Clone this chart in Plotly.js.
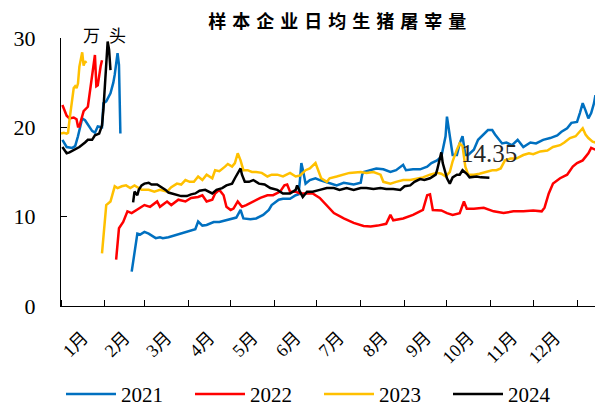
<!DOCTYPE html>
<html><head><meta charset="utf-8">
<script src="https://cdn.plot.ly/plotly-3.0.1.min.js"></script>
<style>
html,body{margin:0;padding:0;background:#fff;}
#chart{width:595px;height:408px;}
.gtitle{letter-spacing:6px;}
.annotation[data-index="0"] .annotation-text{letter-spacing:9px;}
</style></head><body><div id="chart"></div>
<script>
// day index (0 = Jan 1) and values, 万头; null marks the Spring Festival gap
const d2021 = [1,4,8,10,12,15,17,19,22,24,26,29,30,32,35,37,38,40,41,42,46,50,51,54,56,59,62,64,67,70,72,76,81,85,90,95,97,100,103,108,112,117,122,124,127,129,134,138,143,147,149,154,157,162,166,168,169,170,171,173,176,180,183,187,190,195,200,207,212,213,214,219,223,228,233,237,242,244,249,254,259,262,266,269,272,273,275,277,280,282,284,286,288,292,295,299,302,305,307,312,315,319,323,327,332,336,341,346,351,354,358,361,365,367,369,371,373,375,377,378];
const v2021 = [18.6,17.8,17.7,17.9,19.0,21.0,20.8,20.3,19.6,19.4,20.1,20.0,22.7,22.9,23.8,25.0,25.9,28.3,27.0,19.3,null,3.85,4.8,8.1,8.0,8.3,8.1,7.9,7.6,7.7,7.6,7.7,7.95,8.1,8.4,8.6,9.45,9.0,9.07,9.4,9.4,9.6,9.8,9.9,10.75,9.8,9.7,9.8,10.2,10.75,11.3,11.9,12.0,12.0,12.4,12.5,14.1,16.0,15.3,13.7,14.1,14.3,14.1,13.9,13.8,13.5,13.8,13.6,13.8,14.7,15.0,15.2,15.4,15.3,15.0,15.2,15.8,15.2,15.3,15.3,15.6,16.0,16.3,16.7,19.0,21.2,18.9,16.9,16.9,18.2,19.0,16.9,16.9,17.5,18.6,19.3,19.7,19.7,19.2,18.2,18.3,18.0,18.6,17.8,18.3,18.2,18.6,18.8,19.1,19.5,19.9,20.5,20.6,21.6,22.7,21.9,21.0,21.6,22.7,23.6];

const d2022 = [1,4,6,9,11,12,13,16,19,20,22,24,25,26,28,29,34,39,41,44,47,50,55,59,63,68,70,75,78,83,88,92,97,100,103,107,109,112,115,117,120,122,125,128,131,136,141,146,150,155,158,160,162,166,169,174,178,183,188,193,200,207,214,219,224,230,233,235,242,249,256,259,261,263,269,273,277,282,285,287,292,299,306,313,320,327,334,340,342,345,348,353,358,362,365,369,373,375,378];
const v2022 = [22.5,21.3,21.0,21.1,20.9,20.1,20.1,21.8,22.3,23.4,26.0,28.1,24.6,24.7,26.8,27.5,null,5.2,8.7,9.4,10.6,10.4,10.9,11.3,11.1,11.7,11.1,11.7,11.3,11.9,11.7,12.1,12.2,12.4,11.7,11.9,12.6,13.0,12.4,11.1,10.75,10.9,11.7,11.1,11.3,11.7,12.1,12.4,12.4,12.8,13.5,13.6,12.8,12.8,12.6,12.6,12.6,12.1,11.3,10.4,9.8,9.3,8.96,8.9,9.0,9.2,10.2,9.6,9.8,10.2,10.75,12.4,12.5,10.75,10.7,10.4,10.2,10.4,11.7,10.9,10.9,11.0,10.6,10.4,10.6,10.6,10.7,10.6,11.0,12.6,13.7,14.3,14.7,15.6,16.0,16.3,17.1,17.7,17.5];

const d2023 = [0,2,4,5,6,8,9,10,11,12,13,15,16,17,18,23,29,31,32,35,37,38,40,43,46,49,52,57,62,66,70,75,78,82,85,88,91,94,97,100,103,107,109,112,116,118,121,123,125,127,129,132,135,138,142,146,149,153,157,162,166,169,173,176,180,182,184,188,190,195,200,204,212,216,221,226,228,233,237,242,247,252,256,261,266,269,272,275,277,280,282,284,286,288,292,296,301,305,308,311,314,318,322,327,331,334,339,344,348,353,356,360,364,367,369,371,373,376,378];
const v2023 = [19.3,19.4,19.3,19.4,20.8,23.0,24.4,24.6,24.4,24.9,26.8,28.4,26.9,27.4,27.2,null,5.9,10.2,11.3,11.7,13.0,13.4,13.2,13.4,13.5,13.2,13.5,13.0,13.0,12.8,13.0,12.8,13.3,13.7,13.6,14.1,13.9,13.9,14.5,14.1,14.7,14.3,15.2,15.1,15.6,15.9,15.6,16.0,17.1,16.3,15.2,15.2,15.0,15.0,14.9,14.5,14.7,14.7,14.5,14.9,14.5,14.6,15.2,15.4,16.0,15.2,14.3,13.9,14.3,14.5,14.7,14.9,15.0,14.9,15.0,14.7,13.9,13.7,13.9,14.1,14.1,14.3,14.4,14.7,14.9,14.8,14.5,15.0,16.2,17.5,18.2,17.9,15.6,14.7,14.7,14.8,15.0,15.2,15.2,15.4,16.3,16.5,16.5,16.9,17.1,17.0,17.3,17.4,17.8,18.0,18.3,18.8,19.0,19.5,19.9,19.2,18.8,18.4,18.3];

const d2024 = [1,4,6,10,13,17,19,22,24,27,29,30,31,32,33,34,35,43,51,52,54,55,57,59,62,64,68,70,74,76,81,85,89,92,95,98,102,107,110,114,117,121,123,125,127,128,130,133,136,140,144,148,153,157,162,166,167,169,171,174,178,183,188,193,197,202,207,212,216,221,226,230,235,240,243,247,250,254,257,261,265,266,267,269,270,273,275,277,280,282,284,287,289,292,294,297,299,301,303];
const v2024 = [17.8,17.1,17.2,17.5,17.8,18.3,18.6,18.6,19.1,19.3,20.2,22.0,24.8,27.5,29.6,28.7,26.4,null,11.6,12.8,12.4,13.0,13.5,13.7,13.8,13.6,13.6,13.4,13.0,12.7,12.5,12.3,12.3,12.5,12.6,12.9,13.0,12.6,13.0,13.2,13.5,13.7,14.3,14.9,15.4,14.7,13.9,13.9,14.1,13.7,13.6,13.2,13.0,12.6,12.6,13.0,13.5,12.8,12.2,12.8,12.8,13.0,13.2,13.2,13.0,13.2,13.0,13.2,13.2,13.1,13.2,13.1,13.1,13.0,13.4,13.5,13.9,14.2,14.1,14.3,14.7,15.2,15.8,17.2,16.0,14.3,13.7,14.4,14.7,14.7,15.2,14.8,14.4,14.5,14.5,14.4,14.4,14.4,14.35];

const seriesNames = ['2021','2022','2023','2024'];
const seriesColors = ['#0070C0','#FF0000','#FFC000','#000000'];
const monthEdges = [0,31,59,90,120,151,181,212,243,273,304,334,365];
const monthLabels = ['1月','2月','3月','4月','5月','6月','7月','8月','9月','10月','11月','12月'];
const yTicks = [0,10,20,30];
const unitLabel = '万头';
const chartTitle = '样本企业日均生猪屠宰量';

const monthMid = monthLabels.map((_, i) => (monthEdges[i] + monthEdges[i+1]) / 2);
const xs = [d2021, d2022, d2023, d2024];
const ys = [v2021, v2022, v2023, v2024];
const serif = 'Liberation Serif, "Times New Roman", "Noto Sans CJK SC", serif';

const traces = seriesNames.map((n, i) => ({
  type: 'scatter', mode: 'lines', name: n, x: xs[i], y: ys[i],
  connectgaps: false,
  line: {color: seriesColors[i], width: 2.5, shape: 'linear'},
  hoverinfo: 'skip'
}));

const lastX = d2024[d2024.length - 1];
const lastY = v2024[v2024.length - 1];

const layout = {
  width: 595, height: 408,
  margin: {l: 61, r: 0, t: 38, b: 102, pad: 0, autoexpand: false},
  paper_bgcolor: '#ffffff', plot_bgcolor: '#ffffff',
  title: {text: chartTitle, font: {family: '"Noto Sans CJK SC", sans-serif', size: 18, color: '#000', weight: 'bold'},
          x: 0.572, xref: 'container', xanchor: 'center', y: 0.947, yref: 'container', yanchor: 'middle'},
  xaxis: {range: [0, 377.7], tickmode: 'array', tickvals: monthMid, ticktext: monthLabels, tickangle: -45,
          ticks: '', showline: true, linecolor: '#000', linewidth: 1, showgrid: false, zeroline: false,
          tickfont: {family: serif, size: 18, color: '#000'}, ticklabelstandoff: 13,
          minor: {tickmode: 'array', tickvals: monthEdges, ticks: 'inside', ticklen: 6, tickwidth: 1, tickcolor: '#000', showgrid: false}},
  yaxis: {range: [0, 30], tickmode: 'array', tickvals: yTicks, ticks: 'inside', ticklen: 6, tickwidth: 1, tickcolor: '#000',
          showline: true, linecolor: '#000', linewidth: 1, showgrid: false, zeroline: false,
          tickfont: {family: serif, size: 22, color: '#000'}, ticklabelstandoff: 20},
  showlegend: true,
  legend: {orientation: 'h', x: 0, xanchor: 'left', xref: 'paper', y: -0.406, yref: 'paper', yanchor: 'bottom',
           font: {family: serif, size: 21, color: '#000'}, entrywidth: 64, entrywidthmode: 'pixels', itemwidth: 50,
           bgcolor: 'rgba(0,0,0,0)', traceorder: 'normal'},
  annotations: [
    {text: unitLabel, xref: 'paper', yref: 'paper', x: 0.09, y: 1.012, xanchor: 'center', yanchor: 'middle', showarrow: false,
     font: {family: '"Noto Sans CJK SC", serif', size: 17, color: '#000'}},
    {text: lastY.toFixed(2), xref: 'x', yref: 'y', x: lastX, y: lastY, xanchor: 'center', yanchor: 'middle', yshift: 24, showarrow: false,
     font: {family: serif, size: 25, color: '#262626'}}
  ]
};

Plotly.newPlot('chart', traces, layout, {displayModeBar: false, staticPlot: true});
</script></body></html>
